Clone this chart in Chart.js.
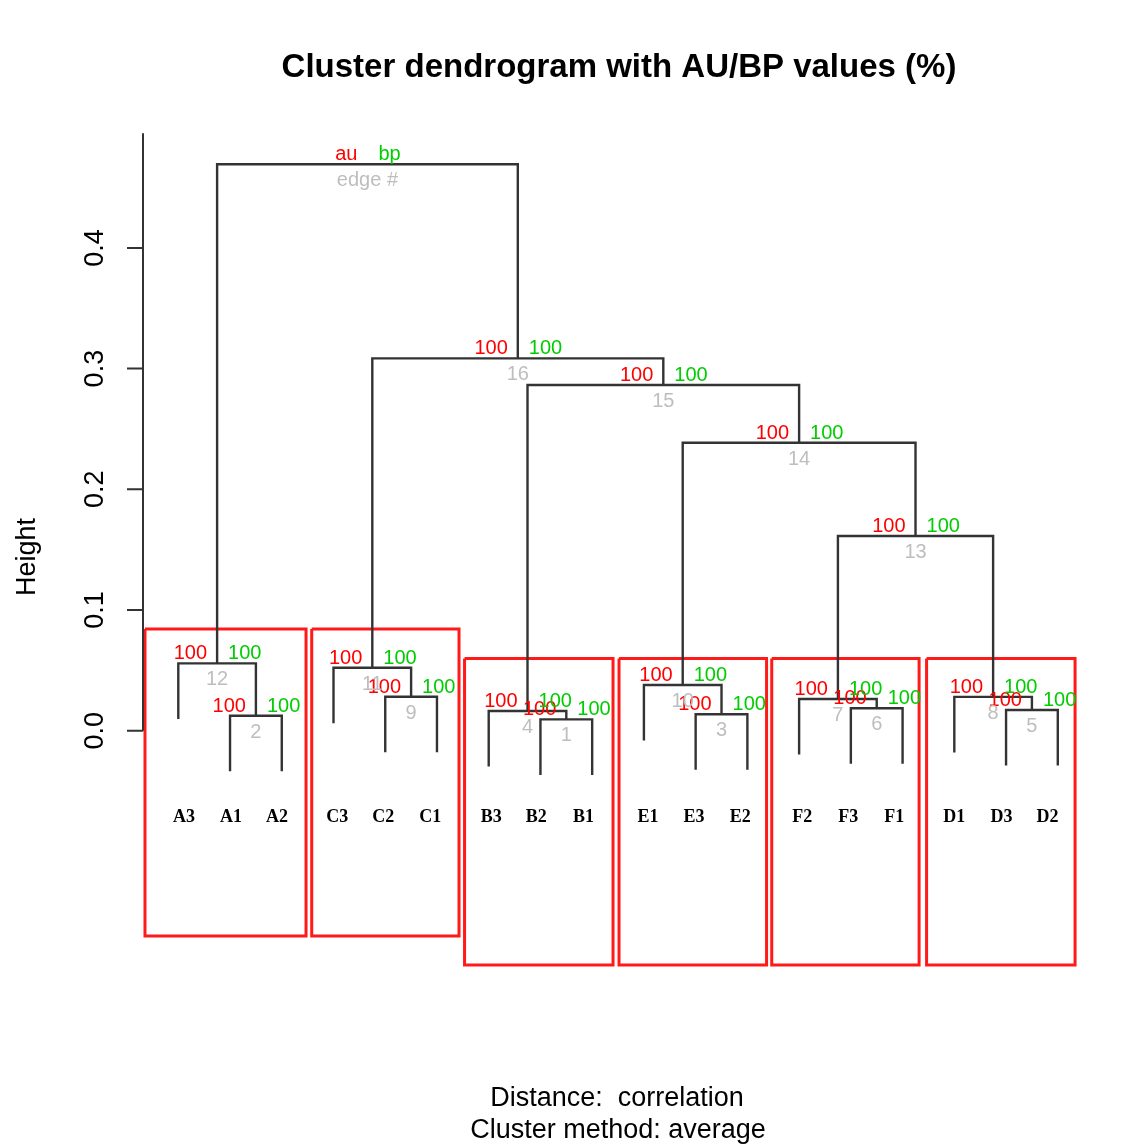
<!DOCTYPE html>
<html>
<head>
<meta charset="utf-8">
<title>Cluster dendrogram</title>
<script src="https://cdn.jsdelivr.net/npm/chart.js@4.4.0/dist/chart.umd.min.js"></script>
<style>
  html, body { margin: 0; padding: 0; background: #fff; }
  canvas { display: block; }
</style>
</head>
<body>
<canvas id="dendro" width="1148" height="1146"></canvas>
<script>
// leaves in plotting order, and where their name tags sit along x
const leafLabels = ['A3', 'A1', 'A2', 'C3', 'C2', 'C1', 'B3', 'B2', 'B1', 'E1', 'E3', 'E2', 'F2', 'F3', 'F1', 'D1', 'D3', 'D2'];
const leafLabelX = [1.11, 2.02, 2.91, 4.07, 4.96, 5.87, 7.05, 7.92, 8.83, 10.08, 10.97, 11.86, 13.06, 13.95, 14.84, 16.00, 16.91, 17.80];
const leafLabelY = -0.0715;

// merge steps (hclust style): negative = leaf number, positive = earlier merge
const mergeLeft   = [-8, -2, -11, -7, -17, -14, -13, -16, -5, -10, -4, -1, 7, 10, 4, 11, 12];
const mergeRight  = [-9, -3, -12, 1, -18, -15, 6, 5, -6, 3, 9, 2, 8, 13, 14, 15, 16];
const mergeHeight = [0.0094, 0.0124, 0.0136, 0.0163, 0.0172, 0.0186, 0.0263, 0.0280, 0.0282,
                     0.0379, 0.0522, 0.0558, 0.1613, 0.2386, 0.2864, 0.3085, 0.4693];
const auValues = [100, 100, 100, 100, 100, 100, 100, 100, 100, 100, 100, 100, 100, 100, 100, 100];
const bpValues = [100, 100, 100, 100, 100, 100, 100, 100, 100, 100, 100, 100, 100, 100, 100, 100];
const hang = 0.046;

const yTicks = [0, 0.1, 0.2, 0.3, 0.4];
const axisTop = 0.495;

// red boxes around the six clusters
const boxLeft   = [0.356, 3.579, 6.533, 9.519, 12.471, 15.464];
const boxRight  = [3.469, 6.426, 9.403, 12.371, 15.319, 18.334];
const boxTop    = [0.0843, 0.0843, 0.0598, 0.0598, 0.0598, 0.0598];
const boxBottom = [-0.1701, -0.1701, -0.1941, -0.1941, -0.1941, -0.1941];

const SANS = '"Liberation Sans", Arial, Helvetica, sans-serif';
const SERIF = '"Liberation Serif", "Times New Roman", serif';
const AU_COL = '#ff0000', BP_COL = '#00cd00', EDGE_COL = '#bebebe';

// x centre of every merge
const nodeX = [];
function posOf(ref) {
    return ref < 0 ? -ref : nodeX[ref - 1];
}
function bottomOf(ref, parentH) {
    return ref < 0 ? parentH - hang : mergeHeight[ref - 1];
}
mergeLeft.forEach((l, i) => {
    nodeX.push((posOf(l) + posOf(mergeRight[i])) / 2);
});

const datasets = [];
mergeLeft.forEach((l, i) => {
    const r = mergeRight[i];
    const h = mergeHeight[i];
    datasets.push({
        data: [
            { x: posOf(l), y: bottomOf(l, h) },
            { x: posOf(l), y: h },
            { x: posOf(r), y: h },
            { x: posOf(r), y: bottomOf(r, h) }
        ],
        borderColor: '#333333',
        borderWidth: 2.4,
        order: 1
    });
});
boxLeft.forEach((bl, i) => {
    datasets.push({
        data: [
            { x: bl, y: boxTop[i] },
            { x: boxRight[i], y: boxTop[i] },
            { x: boxRight[i], y: boxBottom[i] },
            { x: bl, y: boxBottom[i] },
            { x: bl, y: boxTop[i] }
        ],
        borderColor: '#ff1a1a',
        borderWidth: 3,
        borderJoinStyle: 'miter',
        order: 2
    });
});

const annotate = {
    id: 'annotate',
    afterDraw(chart) {
        const { ctx, chartArea } = chart;
        const xs = chart.scales.x, ys = chart.scales.y;
        ctx.save();

        // title and bottom captions
        ctx.fillStyle = '#000';
        ctx.textAlign = 'center';
        ctx.textBaseline = 'middle';
        ctx.font = 'bold 33px ' + SANS;
        ctx.fillText('Cluster dendrogram with AU/BP values (%)', 619, 68);
        ctx.font = '27px ' + SANS;
        ctx.fillText('Distance:  correlation', 617, 1099);
        ctx.fillText('Cluster method: average', 618, 1131);

        // y axis
        const ax = chartArea.left;
        ctx.strokeStyle = '#333';
        ctx.lineWidth = 2;
        ctx.beginPath();
        ctx.moveTo(ax, ys.getPixelForValue(0));
        ctx.lineTo(ax, ys.getPixelForValue(axisTop));
        yTicks.forEach(v => {
            const py = ys.getPixelForValue(v);
            ctx.moveTo(ax, py);
            ctx.lineTo(ax - 16, py);
        });
        ctx.stroke();
        ctx.font = '27px ' + SANS;
        yTicks.forEach(v => {
            ctx.save();
            ctx.translate(96, ys.getPixelForValue(v));
            ctx.rotate(-Math.PI / 2);
            ctx.fillText(v.toFixed(1), 0, 0);
            ctx.restore();
        });
        ctx.save();
        ctx.translate(28, 557);
        ctx.rotate(-Math.PI / 2);
        ctx.fillText('Height', 0, 0);
        ctx.restore();

        // au / bp / edge number at every merge
        ctx.font = '20px ' + SANS;
        ctx.textBaseline = 'alphabetic';
        mergeHeight.forEach((h, i) => {
            const px = xs.getPixelForValue(nodeX[i]);
            const py = ys.getPixelForValue(h);
            const root = i === mergeHeight.length - 1;
            ctx.textAlign = 'right';
            ctx.fillStyle = AU_COL;
            ctx.fillText(root ? 'au' : String(auValues[i]), px - 10, py - 4);
            ctx.textAlign = 'left';
            ctx.fillStyle = BP_COL;
            ctx.fillText(root ? 'bp' : String(bpValues[i]), px + 11, py - 4);
            ctx.textAlign = 'center';
            ctx.fillStyle = EDGE_COL;
            ctx.fillText(root ? 'edge #' : String(i + 1), px, py + 22);
        });

        // leaf names
        ctx.font = 'bold 18px ' + SERIF;
        ctx.fillStyle = '#000';
        ctx.textAlign = 'center';
        ctx.textBaseline = 'middle';
        leafLabels.forEach((lab, i) => {
            ctx.fillText(lab, xs.getPixelForValue(leafLabelX[i]), ys.getPixelForValue(leafLabelY));
        });
        ctx.restore();
    }
};

new Chart(document.getElementById('dendro'), {
    type: 'scatter',
    data: { datasets },
    options: {
        responsive: false,
        animation: false,
        showLine: true,
        elements: {
            point: { radius: 0, hoverRadius: 0 },
            line: { tension: 0, fill: false }
        },
        layout: {
            padding: { left: 143, top: 133, right: 54, bottom: 146 }
        },
        scales: {
            x: { type: 'linear', min: 0.3176, max: 18.70, display: false },
            y: { type: 'linear', min: -0.2231, max: 0.4952, display: false }
        },
        plugins: {
            legend: { display: false },
            tooltip: { enabled: false },
            title: { display: false }
        },
        events: []
    },
    plugins: [annotate]
});
</script>
</body>
</html>
